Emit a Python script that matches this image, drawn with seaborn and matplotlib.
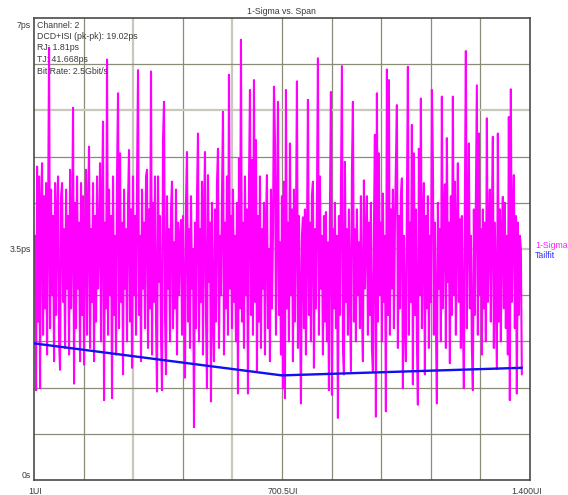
import numpy as np
import matplotlib
matplotlib.use("Agg")
import matplotlib.pyplot as plt
import seaborn as sns

# ---------------- data ----------------
title = "1-Sigma vs. Span"
info_lines = ["Channel: 2", "DCD+ISI (pk-pk): 19.02ps", "RJ: 1.81ps",
              "TJ: 41.668ps", "Bit Rate: 2.5Gbit/s"]
x_tick_values = [1, 700.5, 1400]
x_tick_labels = ["1UI", "700.5UI", "1.400UI"]
y_tick_values = [7.0, 3.5, 0.0]
y_tick_labels = ["7ps", "3.5ps", "0s"]
series_names = ["1-Sigma", "Tailfit"]

# 1-Sigma series (ps), read column by column across the span
sigma_span_first = 4
sigma_span_last = 1377
sigma_ps = [
    3.7, 1.36, 4.75, 2.4, 4.6, 1.39, 4.2, 4.8, 2.2, 4.3, 2.6, 4.5, 1.9, 3.9, 6.55, 2.3, 4.4, 2.8, 4.0, 1.8,
    4.5, 2.5, 4.1, 4.6, 2.1, 1.67, 4.3, 4.5, 2.7, 3.8, 2.0, 4.4, 2.9, 4.0, 1.9, 4.7, 2.6, 3.7, 5.64, 1.46,
    4.2, 2.3, 4.6, 2.9, 3.9, 1.8, 4.5, 2.5, 4.3, 1.75, 3.7, 4.7, 2.2, 4.1, 5.05, 2.0, 3.8, 2.7, 4.5, 1.8,
    4.0, 2.4, 4.6, 2.9, 3.6, 4.8, 2.1, 4.2, 5.43, 1.21, 3.9, 2.6, 6.37, 2.2, 4.4, 2.8, 4.0, 1.24, 4.6, 2.5,
    3.7, 1.9, 4.6, 5.86, 2.3, 4.95, 2.7, 3.9, 1.6, 4.4, 2.9, 3.8, 2.1, 4.2, 5.0, 2.4, 4.1, 1.7, 4.6, 2.8,
    4.0, 2.2, 4.5, 6.21, 2.5, 3.7, 1.8, 4.4, 2.9, 3.9, 2.3, 4.6, 4.7, 2.0, 4.1, 2.6, 6.19, 1.9, 4.2, 2.7,
    4.6, 2.4, 1.34, 4.6, 3.0, 4.0, 2.2, 1.36, 5.15, 5.73, 2.5, 1.6, 4.3, 2.9, 3.8, 2.1, 4.1, 4.52, 2.3, 3.6,
    2.6, 4.4, 1.9, 3.9, 2.8, 3.7, 3.94, 2.2, 4.0, 2.7, 1.55, 4.2, 4.97, 2.4, 3.8, 2.0, 4.3, 2.9, 3.5, 0.8,
    3.9, 2.3, 4.3, 5.25, 2.1, 3.8, 2.7, 4.52, 1.9, 4.0, 4.97, 2.5, 1.39, 4.62, 3.0, 3.9, 1.19, 4.2, 2.6, 1.8,
    4.1, 2.4, 4.5, 5.02, 2.0, 3.7, 2.8, 4.3, 5.58, 1.9, 3.9, 2.6, 4.6, 2.2, 6.14, 2.9, 4.0, 2.3, 4.4, 2.7,
    3.7, 2.1, 4.2, 1.31, 4.87, 2.6, 6.67, 2.4, 3.9, 2.0, 4.6, 2.8, 4.1, 1.31, 4.5, 5.91, 2.5, 4.85, 2.2, 6.06,
    2.7, 5.15, 1.64, 4.0, 2.4, 4.6, 2.0, 3.8, 2.9, 4.2, 1.9, 3.9, 4.62, 2.3, 3.5, 1.8, 4.4, 2.6, 3.7, 5.96,
    5.18, 2.2, 4.0, 5.73, 2.5, 3.6, 1.9, 4.3, 1.39, 4.52, 1.24, 5.91, 2.6, 3.9, 2.1, 5.1, 2.8, 4.1, 1.8, 4.4,
    2.4, 3.8, 6.04, 2.0, 4.0, 2.7, 1.16, 3.7, 3.98, 2.3, 4.1, 1.9, 3.6, 5.76, 2.5, 3.9, 2.1, 4.3, 4.52, 1.7,
    3.8, 2.6, 4.2, 6.39, 2.2, 4.6, 2.9, 3.7, 1.9, 4.0, 2.4, 4.06, 2.1, 3.6, 1.36, 4.1, 5.88, 1.29, 3.8, 2.6,
    4.2, 2.3, 3.7, 0.94, 4.0, 2.5, 4.3, 6.27, 2.0, 1.6, 4.82, 2.7, 3.8, 2.2, 4.1, 2.9, 1.65, 4.67, 5.73, 2.4,
    3.8, 2.1, 4.1, 2.8, 3.6, 2.3, 4.3, 2.6, 1.8, 4.54, 2.9, 3.7, 4.3, 2.2, 3.9, 2.5, 4.2, 2.0, 1.65, 3.8,
    5.23, 0.96, 5.86, 2.4, 4.95, 2.8, 3.9, 2.1, 4.34, 2.7, 3.7, 1.04, 6.22, 2.5, 6.06, 2.2, 4.1, 2.9, 4.4, 2.3,
    3.8, 4.8, 5.68, 2.0, 4.0, 2.6, 4.3, 4.57, 1.39, 3.7, 2.4, 1.8, 4.2, 6.26, 2.2, 3.9, 2.7, 5.38, 1.45, 4.95,
    2.5, 4.1, 2.1, 1.14, 5.02, 2.8, 5.78, 2.3, 3.8, 4.5, 1.6, 4.0, 2.6, 4.3, 2.0, 3.7, 2.7, 5.91, 4.85, 2.2,
    3.9, 2.4, 1.16, 4.2, 2.9, 3.8, 2.1, 5.81, 2.6, 4.0, 4.48, 2.0, 5.18, 3.0, 3.9, 1.77, 4.3, 2.5, 5.81, 2.8,
    4.52, 2.2, 3.8, 4.8, 2.7, 3.95, 2.0, 4.0, 2.4, 1.39, 4.2, 6.5, 2.3, 3.9, 5.1, 2.6, 3.7, 2.0, 1.36, 4.1,
    2.5, 4.3, 5.98, 2.2, 5.25, 2.8, 3.8, 1.9, 4.1, 2.6, 3.9, 2.1, 5.48, 2.7, 3.7, 4.4, 2.4, 4.0, 5.2, 2.0,
    3.9, 2.8, 1.68, 5.25, 2.4, 4.1, 2.1, 3.8, 4.29, 2.6, 4.2, 2.3, 3.7, 1.9, 5.5, 1.21, 5.92, 2.7, 3.9, 4.62,
    2.3, 4.0, 1.31, 3.9, 2.5, 3.7, 3.51, 1.6,
]

# Tailfit (ps)
tailfit_span = [1, 700, 1377]
tailfit_ps = [2.07, 1.585, 1.70]

# ---------------- style ----------------
sns.set_style("white")
plt.rcParams["font.family"] = ["Liberation Sans", "DejaVu Sans"]

W, H = 568, 495
fig = plt.figure(figsize=(W / 100, H / 100), dpi=100)
left_px, right_px, top_px, bottom_px = 34, 530, 18, 480
ax = fig.add_axes([left_px / W, (H - bottom_px) / H,
                   (right_px - left_px) / W, (bottom_px - top_px) / H])
ax.set_facecolor("white")

x_min, x_max = 1, 1400
y_min, y_max = 0.0, 7.0

# grid
grid_dark = "#8c8b77"
grid_light = "#c9c8bd"
xgrid = np.linspace(x_min, x_max, 11)[1:-1]
ygrid = np.linspace(y_min, y_max, 11)[1:-1]
for i, v in enumerate(xgrid):
    light = i in (1, 3)
    ax.axvline(v, color=grid_light if light else grid_dark,
               lw=1.6 if light else 0.9, zorder=0.5)
for i, v in enumerate(ygrid):
    light = i in (4, 7)
    ax.axhline(v, color=grid_light if light else grid_dark,
               lw=1.6 if light else 0.9, zorder=0.5)

sigma_x = np.linspace(sigma_span_first, sigma_span_last, len(sigma_ps))
sns.lineplot(x=sigma_x, y=sigma_ps, ax=ax, color="#ff00ff", linewidth=1.5,
             estimator=None, sort=False, zorder=2)
sns.lineplot(x=tailfit_span, y=tailfit_ps, ax=ax, color="#1010f0",
             linewidth=1.7, estimator=None, sort=False, zorder=3)

ax.set_xlim(x_min, x_max)
ax.set_ylim(y_min, y_max)
ax.set_xticks([])
ax.set_yticks([])
ax.set_xlabel("")
ax.set_ylabel("")
for s in ax.spines.values():
    s.set_visible(True)
    s.set_color("#4a4a4a")
    s.set_linewidth(1.2)

fs = 6.3
tc = "#3a3a3a"

def px(x, y):
    return x / W, 1 - y / H

# title
fig.text(*px(281, 12), title, ha="center", va="center", fontsize=fs, color=tc)

# info block
for k, line in enumerate(info_lines):
    fig.text(*px(37, 25 + k * 11.5), line, ha="left", va="center",
             fontsize=fs, color=tc)

# y labels
y_label_px = [25, 249, 476]
for lab, yp in zip(y_tick_labels, y_label_px):
    fig.text(*px(31, yp), lab, ha="right", va="center", fontsize=fs, color=tc)

# x labels
x_label_px = [35, 283, 527]
for lab, xp in zip(x_tick_labels, x_label_px):
    fig.text(*px(xp, 491), lab, ha="center", va="center", fontsize=fs, color=tc)

# series labels on the right
fig.text(*px(535, 245), series_names[0], ha="left", va="center",
         fontsize=fs, color="#ff22ff")
fig.text(*px(535, 256), series_names[1], ha="left", va="center",
         fontsize=fs, color="#3030ff")

fig.savefig("out.png", dpi=100)
